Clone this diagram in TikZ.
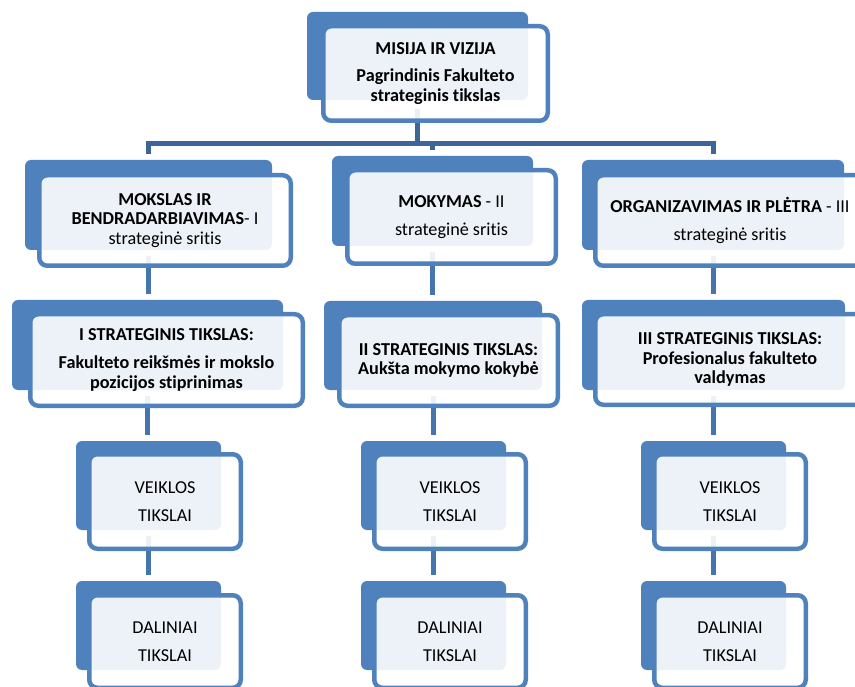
\documentclass[tikz,border=0pt]{standalone}
\usepackage{fontspec}
\setmainfont{Carlito}[Ligatures=NoCommon]
\definecolor{melyna}{HTML}{4F81BD}
\definecolor{tamsi}{HTML}{3D6598}
\definecolor{jungtis}{HTML}{4674AE}
\tikzset{
  pagr/.style={fill=melyna, rounded corners=6pt, inner sep=0pt},
  ramka/.style={draw=melyna, line width=4.5pt, fill=white, fill opacity=.9, text opacity=1,
    rounded corners=8pt, inner sep=0pt, align=center, font=\fontsize{18.2}{19.8}\selectfont},
  bus/.style={draw=tamsi, line width=5pt},
  linija/.style={draw=jungtis, line width=5pt, shorten <=6pt, shorten >=6pt}
}
\begin{document}
\begin{tikzpicture}[x=1pt,y=-1pt]
    \useasboundingbox (0,0) rectangle (855,687);
    % melyni pagrindai
    \node[pagr, minimum width=221pt, minimum height=88pt] (misija-b) at (417.5,56) {};
    \node[pagr, minimum width=247pt, minimum height=90pt] (mokslas-b) at (148.5,205) {};
    \node[pagr, minimum width=201pt, minimum height=90pt] (mokymas-b) at (432.5,201) {};
    \node[pagr, minimum width=262pt, minimum height=90pt] (organiz-b) at (713,205) {};
    \node[pagr, minimum width=271pt, minimum height=90pt] (tikslas1-b) at (147.5,345) {};
    \node[pagr, minimum width=218pt, minimum height=89pt] (tikslas2-b) at (433,345.5) {};
    \node[pagr, minimum width=263pt, minimum height=90pt] (tikslas3-b) at (713.5,345) {};
    \foreach \x/\n in {76/1,361/2,641/3}{
        \node[pagr, minimum width=145pt, minimum height=89pt] (veikla\n-b) at (\x+72.5,485.5) {};
        \node[pagr, minimum width=145pt, minimum height=89pt] (dalin\n-b) at (\x+72.5,625.5) {};
    }
    % jungtys
    \coordinate (bus) at (0,143.5);
    \draw[bus, shorten >=9pt] (misija-b.south |- bus) -- (misija-b.south);
    \draw[bus, shorten <=6pt, shorten >=6pt] (mokslas-b.north) -- (mokslas-b.north |- bus)
        -- (organiz-b.north |- bus) -- (organiz-b.north);
    \draw[bus, shorten >=6pt] (mokymas-b.north |- bus) -- (mokymas-b.north);
    \draw[linija] (mokslas-b.south) -- (mokslas-b.south |- tikslas1-b.north);
    \draw[linija] (mokymas-b.south) -- (mokymas-b.south |- tikslas2-b.north);
    \draw[linija] (organiz-b.south) -- (organiz-b.south |- tikslas3-b.north);
    \draw[linija] (tikslas1-b.south) -- (tikslas1-b.south |- veikla1-b.north);
    \draw[linija] (tikslas2-b.south) -- (tikslas2-b.south |- veikla2-b.north);
    \draw[linija] (tikslas3-b.south) -- (tikslas3-b.south |- veikla3-b.north);
    \foreach \n in {1,2,3}
        \draw[linija] (veikla\n-b.south) -- (veikla\n-b.south |- dalin\n-b.north);
    % remeliai su tekstu
    \node[ramka, minimum width=224.5pt, minimum height=94.5pt] (misija) at (435.5,73.5)
        {\textbf{MISIJA IR VIZIJA}\\[8pt]\textbf{Pagrindinis Fakulteto}\\\textbf{strateginis tikslas}};
    \node[ramka, minimum width=251.5pt, minimum height=90.5pt] (mokslas) at (165,220.5)
        {\textbf{MOKSLAS IR}\\\textbf{BENDRADARBIAVIMAS}- I\\strateginė sritis};
    \node[ramka, minimum width=208.5pt, minimum height=93.5pt] (mokymas) at (451.5,217)
        {\textbf{MOKYMAS} - II\\[9pt]strateginė sritis};
    \node[ramka, minimum width=269.5pt, minimum height=90.5pt] (organiz) at (730,220.5)
        {\textbf{ORGANIZAVIMAS IR PLĖTRA} - III\\[8pt]strateginė sritis};
    \node[ramka, minimum width=272.5pt, minimum height=91.5pt] (tikslas1) at (166.5,360)
        {\textbf{I STRATEGINIS TIKSLAS:}\\[9pt]\textbf{Fakulteto reikšmės ir mokslo}\\\textbf{pozicijos stiprinimas}};
    \node[ramka, minimum width=218.5pt, minimum height=90.5pt] (tikslas2) at (448.5,360.5)
        {\textbf{II STRATEGINIS TIKSLAS:}\\\textbf{Aukšta mokymo kokybė}};
    \node[ramka, minimum width=269.5pt, minimum height=90.5pt] (tikslas3) at (730,359.5)
        {\textbf{III STRATEGINIS TIKSLAS:}\\\textbf{Profesionalus fakulteto}\\\textbf{valdymas}};
    \foreach \x/\n in {76/1,361/2,641/3}{
        \node[ramka, minimum width=151.5pt, minimum height=94.5pt] (veikla\n) at (\x+89,501.5)
            {VEIKLOS\\[8pt]TIKSLAI};
        \node[ramka, minimum width=151.5pt, minimum height=92.5pt] (dalin\n) at (\x+89,641.5)
            {DALINIAI\\[8pt]TIKSLAI};
    }
\end{tikzpicture}
\end{document}
